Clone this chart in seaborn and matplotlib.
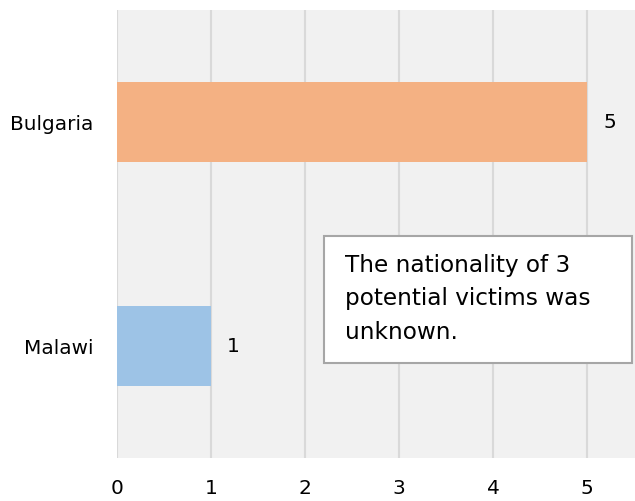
import matplotlib
matplotlib.use("Agg")
import matplotlib.pyplot as plt
import seaborn as sns
import pandas as pd

countries = ["Bulgaria", "Malawi"]
victims = [5, 1]
bar_colors = ["#F4B183", "#9DC3E6"]
x_ticks = [0, 1, 2, 3, 4, 5]
note = "The nationality of 3\npotential victims was\nunknown."

sns.set_theme(style="white")
plt.rcParams["font.family"] = ["DejaVu Sans"]

df = pd.DataFrame({"country": countries, "victims": victims})

fig = plt.figure(figsize=(6.35, 5.01), dpi=100)
ax = fig.add_axes([117 / 635, 1 - 458 / 501, 1 - 117 / 635, 448 / 501])
ax.set_facecolor("#F1F1F1")

sns.barplot(data=df, x="victims", y="country", hue="country",
            palette=bar_colors, orient="h", width=0.357, legend=False,
            saturation=1, linewidth=0, ax=ax)

ax.set_xlim(0, 5.51)
ax.set_ylim(1.5, -0.5)
ax.set_xticks(x_ticks)
ax.xaxis.grid(True, color="#D9D9D9", linewidth=1.5)
ax.set_axisbelow(True)
for s in ax.spines.values():
    s.set_visible(False)
ax.tick_params(axis="x", length=0, pad=15, labelsize=14.5, labelcolor="black")
ax.tick_params(axis="y", length=0, pad=17, labelsize=14.4, labelcolor="black")
ax.set_xlabel("")
ax.set_ylabel("")

for i, v in enumerate(victims):
    ax.text(v + 0.17, i, str(v), va="center", ha="left", fontsize=14.5, color="black")

box = plt.Rectangle((324 / 635, 1 - 363 / 501), (632 - 324) / 635, (363 - 236) / 501,
                    transform=fig.transFigure, facecolor="white",
                    edgecolor="#A6A6A6", linewidth=1.5, zorder=3)
fig.patches.append(box)
fig.text(345 / 635, 1 - 254 / 501, note, fontsize=16.7, va="top", ha="left",
         linespacing=1.57, color="black", zorder=5)

fig.savefig("out.png", dpi=100)
